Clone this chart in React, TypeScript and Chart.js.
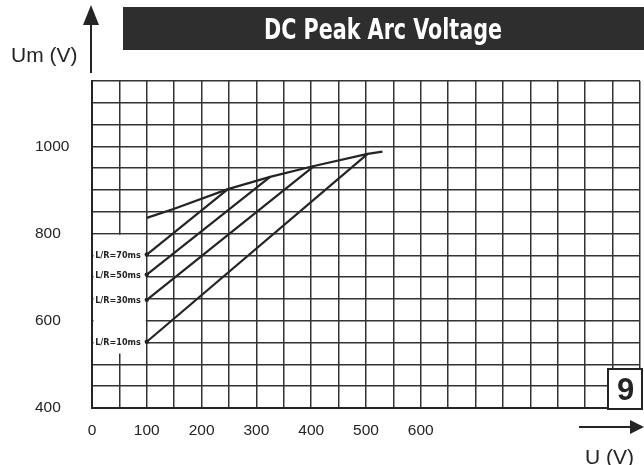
import React, { useEffect, useRef } from 'react';
import { Chart, registerables } from 'chart.js';

Chart.register(...registerables);

// ---- data ----
const xLabelValues = [0, 100, 200, 300, 400, 500, 600];
const yLabelValues = [400, 600, 800, 1000];

const envelopeU = [100, 150, 248, 325, 405, 503, 530];
const envelopeUm = [836, 857, 902, 930, 955, 983, 988];

const lr70U = [100, 248];
const lr70Um = [752, 902];
const lr50U = [100, 325];
const lr50Um = [706, 930];
const lr30U = [100, 405];
const lr30Um = [648, 955];
const lr10U = [100, 503];
const lr10Um = [552, 983];

const seriesNames = ['L/R=70ms', 'L/R=50ms', 'L/R=30ms', 'L/R=10ms'];
const seriesU = [lr70U, lr50U, lr30U, lr10U];
const seriesUm = [lr70Um, lr50Um, lr30Um, lr10Um];

const titleText = 'DC Peak Arc Voltage';
const yAxisTitle = 'Um (V)';
const xAxisTitle = 'U (V)';
const badgeText = '9';

const INK = '#242424';
const GRID = '#333333';

const toPoints = (xs: number[], ys: number[]) => xs.map((v, i) => ({ x: v, y: ys[i] }));

const decorPlugin = {
  id: 'decor',
  beforeDatasetsDraw(chart: any) {
    const { ctx } = chart;
    const x = chart.scales.x;
    const y = chart.scales.y;
    ctx.save();
    // white label area in the first grid columns
    const l = x.getPixelForValue(0) + 1.5;
    const r = x.getPixelForValue(100) - 1;
    const t = y.getPixelForValue(800) + 1.2;
    const b = y.getPixelForValue(525);
    ctx.fillStyle = '#ffffff';
    ctx.fillRect(l, t, r - l, b - t);
    // series labels
    ctx.fillStyle = INK;
    ctx.font = 'bold 9px "DejaVu Sans Condensed", "DejaVu Sans", sans-serif';
    ctx.textAlign = 'right';
    ctx.textBaseline = 'middle';
    seriesNames.forEach((name, i) => {
      const meta = chart.getDatasetMeta(i + 1);
      const pt = meta.data[0];
      if (pt) ctx.fillText(name, pt.x - 6, pt.y + 1);
    });
    ctx.restore();
  },
  afterDraw(chart: any) {
    const { ctx } = chart;
    ctx.save();
    // title banner
    ctx.fillStyle = '#2e2e2e';
    ctx.fillRect(123, 7, 521, 43);
    ctx.fillStyle = '#ffffff';
    ctx.font = 'bold 28px "DejaVu Sans Condensed", "DejaVu Sans", sans-serif';
    ctx.textBaseline = 'alphabetic';
    ctx.textAlign = 'center';
    const w = ctx.measureText(titleText).width;
    const sx = 238 / w;
    ctx.save();
    ctx.translate(383, 39);
    ctx.scale(sx, 1);
    ctx.fillText(titleText, 0, 0);
    ctx.restore();

    // y arrow
    ctx.strokeStyle = INK;
    ctx.fillStyle = INK;
    ctx.lineWidth = 2;
    ctx.beginPath();
    ctx.moveTo(91, 73);
    ctx.lineTo(91, 22);
    ctx.stroke();
    ctx.beginPath();
    ctx.moveTo(91, 5);
    ctx.lineTo(83, 25);
    ctx.lineTo(99, 25);
    ctx.closePath();
    ctx.fill();

    // x arrow
    ctx.beginPath();
    ctx.moveTo(579, 427);
    ctx.lineTo(632, 427);
    ctx.stroke();
    ctx.beginPath();
    ctx.moveTo(644, 427);
    ctx.lineTo(630, 420);
    ctx.lineTo(630, 434);
    ctx.closePath();
    ctx.fill();

    // axis titles
    ctx.font = '21px "Liberation Sans", Arial, sans-serif';
    ctx.textAlign = 'left';
    ctx.textBaseline = 'alphabetic';
    ctx.fillText(yAxisTitle, 11, 62);
    ctx.fillText(xAxisTitle, 585, 464);

    // badge
    ctx.fillStyle = '#ffffff';
    ctx.fillRect(608, 369, 34, 40);
    ctx.lineWidth = 2;
    ctx.strokeStyle = INK;
    ctx.strokeRect(608, 369, 34, 40);
    ctx.fillStyle = INK;
    ctx.font = 'bold 31px "Liberation Sans", Arial, sans-serif';
    ctx.textAlign = 'center';
    ctx.textBaseline = 'middle';
    ctx.fillText(badgeText, 625.5, 391);
    ctx.restore();
  },
};

export default function App() {
  const ref = useRef<HTMLCanvasElement | null>(null);

  useEffect(() => {
    if (!ref.current) return;
    const lineStyle = {
      borderColor: INK,
      backgroundColor: INK,
      borderWidth: 2.2,
      tension: 0,
      fill: false,
    };
    const datasets: any[] = [
      {
        ...lineStyle,
        label: 'envelope',
        data: toPoints(envelopeU, envelopeUm),
        pointRadius: 0,
      },
      ...seriesNames.map((name, i) => ({
        ...lineStyle,
        label: name,
        data: toPoints(seriesU[i], seriesUm[i]),
        pointRadius: seriesU[i].map((_, j) => (j === 0 ? 2.2 : 0)),
        pointBorderWidth: 0,
        pointBackgroundColor: INK,
      })),
    ];

    const chart = new Chart(ref.current, {
      type: 'line',
      data: { datasets },
      options: {
        animation: false,
        responsive: false,
        maintainAspectRatio: false,
        layout: { padding: { left: 35, top: 81, right: 2, bottom: 0 } },
        plugins: {
          legend: { display: false },
          tooltip: { enabled: false },
          title: { display: false },
        },
        scales: {
          x: {
            type: 'linear',
            min: 0,
            max: 1000,
            afterFit: (s: any) => {
              s.height = 57;
              s.paddingLeft = 0;
              s.paddingRight = 0;
            },
            ticks: {
              stepSize: 50,
              autoSkip: false,
              maxRotation: 0,
              padding: 13,
              color: INK,
              font: { family: '"Liberation Sans", Arial, sans-serif', size: 15.5 },
              callback: (v: any) => (xLabelValues.includes(Number(v)) ? String(v) : ''),
            },
            grid: { color: GRID, lineWidth: 1.5, drawTicks: false },
            border: { display: true, color: INK, width: 2 },
          },
          y: {
            type: 'linear',
            min: 400,
            max: 1150,
            afterFit: (s: any) => {
              s.width = 57;
              s.paddingTop = 0;
              s.paddingBottom = 0;
            },
            ticks: {
              stepSize: 50,
              autoSkip: false,
              crossAlign: 'far',
              padding: 0,
              color: INK,
              font: { family: '"Liberation Sans", Arial, sans-serif', size: 15.5 },
              callback: (v: any) => (yLabelValues.includes(Number(v)) ? String(v) : ''),
            },
            grid: { color: GRID, lineWidth: 1.5, drawTicks: false },
            border: { display: true, color: INK, width: 2 },
          },
        },
      },
      plugins: [decorPlugin],
    });
    return () => chart.destroy();
  }, []);

  return (
    <div style={{ position: 'absolute', left: 0, top: 0, width: 644, height: 465, background: '#fff' }}>
      <canvas ref={ref} width={644} height={465} style={{ width: 644, height: 465, display: 'block' }} />
    </div>
  );
}
